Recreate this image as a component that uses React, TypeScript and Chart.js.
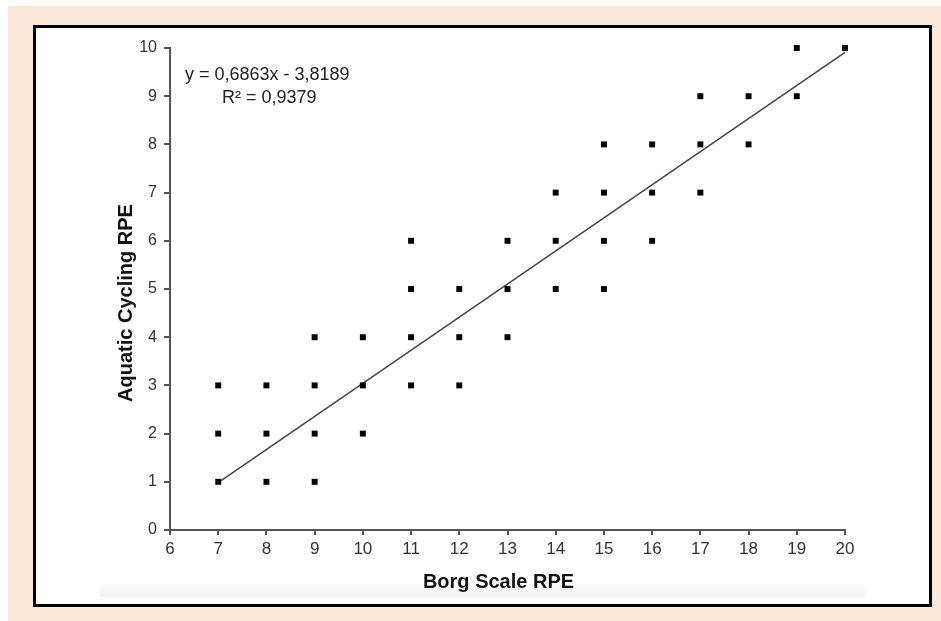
import React, { useEffect, useRef } from "react";
import { Chart, registerables } from "chart.js";

Chart.register(...registerables);

const borgX: number[] = [7, 7, 7, 8, 8, 8, 9, 9, 9, 9, 10, 10, 10, 11, 11, 11, 11, 12, 12, 12, 13, 13, 13, 14, 14, 14, 15, 15, 15, 15, 16, 16, 16, 17, 17, 17, 18, 18, 19, 19, 20];
const aquaticY: number[] = [1, 2, 3, 1, 2, 3, 1, 2, 3, 4, 2, 3, 4, 3, 4, 5, 6, 3, 4, 5, 4, 5, 6, 5, 6, 7, 5, 6, 7, 8, 6, 7, 8, 7, 8, 9, 8, 9, 9, 10, 10];
const slope = 0.6863;
const intercept = -3.8189;
const trendX: number[] = [7, 20];
const equationLines: string[] = ["y = 0,6863x - 3,8189", "R² = 0,9379"];
const xTitle = "Borg Scale RPE";
const yTitle = "Aquatic Cycling RPE";

const FONT = "'Liberation Sans', Arial, sans-serif";

const overlayPlugin = {
  id: "overlayText",
  afterDraw(chart: any) {
    const ctx = chart.ctx;
    const ca = chart.chartArea;
    ctx.save();
    ctx.fillStyle = "#222";
    ctx.font = `18px ${FONT}`;
    ctx.textBaseline = "middle";
    ctx.textAlign = "left";
    ctx.fillText(equationLines[0], ca.left + 15, ca.top + 27);
    ctx.fillText(equationLines[1], ca.left + 52, ca.top + 50);
    ctx.fillStyle = "#111";
    ctx.font = `bold 20px ${FONT}`;
    ctx.textAlign = "center";
    ctx.fillText(xTitle, (ca.left + ca.right) / 2 - 9, ca.bottom + 52);
    ctx.translate(ca.left - 44, (ca.top + ca.bottom) / 2 + 14);
    ctx.rotate(-Math.PI / 2);
    ctx.fillText(yTitle, 0, 0);
    ctx.restore();
  },
};

export default function App() {
  const canvasRef = useRef<HTMLCanvasElement | null>(null);

  useEffect(() => {
    if (!canvasRef.current) return;
    const points = borgX.map((x, i) => ({ x, y: aquaticY[i] }));
    const trend = trendX.map((x) => ({ x, y: slope * x + intercept }));
    const chart = new Chart(canvasRef.current, {
      type: "scatter",
      data: {
        datasets: [
          {
            type: "line",
            data: trend,
            borderColor: "#444",
            borderWidth: 1.5,
            pointRadius: 0,
            fill: false,
            order: 2,
            clip: false,
          } as any,
          {
            data: points,
            backgroundColor: "#000",
            borderWidth: 0,
            pointStyle: "rect",
            pointRadius: 4.2,
            order: 1,
            clip: false,
          } as any,
        ],
      },
      options: {
        animation: false,
        responsive: false,
        maintainAspectRatio: false,
        layout: { padding: { top: 20, right: 84, left: 0, bottom: 0 } },
        plugins: {
          legend: { display: false },
          tooltip: { enabled: false },
        },
        scales: {
          x: {
            type: "linear",
            min: 6,
            max: 20,
            ticks: {
              stepSize: 1,
              color: "#333",
              font: { family: FONT, size: 17 },
              padding: 4,
            },
            grid: {
              drawOnChartArea: false,
              drawTicks: true,
              tickLength: 5,
              color: "#555",
              lineWidth: 2,
            },
            border: { color: "#555", width: 2 },
            afterFit: (s: any) => {
              s.height = 74;
            },
          },
          y: {
            type: "linear",
            min: 0,
            max: 10,
            ticks: {
              stepSize: 1,
              color: "#333",
              font: { family: FONT, size: 16 },
              padding: 7,
            },
            grid: {
              drawOnChartArea: false,
              drawTicks: true,
              tickLength: 6,
              color: "#555",
              lineWidth: 2,
            },
            border: { color: "#555", width: 2 },
            afterFit: (s: any) => {
              s.width = 134;
            },
          },
        },
      },
      plugins: [overlayPlugin],
    });
    return () => chart.destroy();
  }, []);

  return (
    <div
      style={{
        position: "absolute",
        left: 8,
        top: 6,
        width: 933,
        height: 615,
        background: "#fce8d9",
      }}
    >
      <div
        style={{
          position: "absolute",
          left: 25,
          top: 19,
          width: 893,
          height: 576,
          border: "3px solid #000",
          background: "#fff",
        }}
      >
        <div
          style={{
            position: "absolute",
            left: 64,
            top: 555,
            width: 765,
            height: 14,
            background: "linear-gradient(#ffffff, #f2f2f2)",
          }}
        />
        <canvas
          ref={canvasRef}
          width={893}
          height={576}
          style={{ position: "absolute", left: 0, top: 0, width: 893, height: 576 }}
        />
      </div>
    </div>
  );
}
